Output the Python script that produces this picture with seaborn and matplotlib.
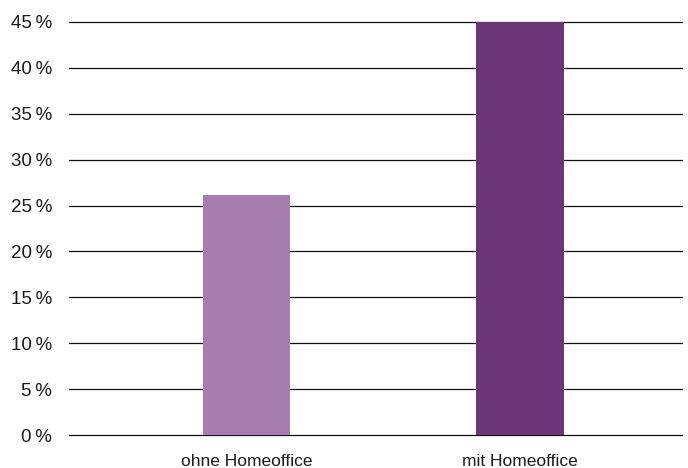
import matplotlib
matplotlib.use("Agg")
import matplotlib.pyplot as plt
import seaborn as sns
import pandas as pd

categories = ["ohne Homeoffice", "mit Homeoffice"]
values = [26.2, 45.0]
bar_colors = ["#A67DAE", "#6C3578"]
y_ticks = [0, 5, 10, 15, 20, 25, 30, 35, 40, 45]

sns.set_theme(style="white")
plt.rcParams["font.family"] = ["Liberation Sans", "DejaVu Sans"]

df = pd.DataFrame({"Kategorie": categories, "Anteil": values})

fig = plt.figure(figsize=(6.88, 4.68), dpi=100)
ax = fig.add_axes([69 / 688, 1 - 435 / 468, (682 - 69) / 688, (435 - 22) / 468])

# horizontal rules at every tick, behind the bars
for t in y_ticks:
    ax.axhline(t, color="#111111", linewidth=0.9, zorder=0, clip_on=False)

sns.barplot(data=df, x="Kategorie", y="Anteil", hue="Kategorie",
            palette=bar_colors, width=0.32, legend=False, ax=ax,
            saturation=1, linewidth=0, zorder=2)

ax.set_ylim(0, 45)
ax.set_xlim(-0.649, 1.592)
ax.set_yticks(y_ticks)
ax.set_yticklabels([f"{t}\u2009%" for t in y_ticks], fontsize=13.5, color="#1a1a1a")
ax.tick_params(axis="y", length=0, pad=12)
ax.tick_params(axis="x", length=0, pad=14)
for lbl in ax.get_xticklabels():
    lbl.set_fontsize(12.5)
    lbl.set_color("#1a1a1a")
ax.set_xlabel("")
ax.set_ylabel("")
for s in ax.spines.values():
    s.set_visible(False)

fig.savefig("out.png", dpi=100)
